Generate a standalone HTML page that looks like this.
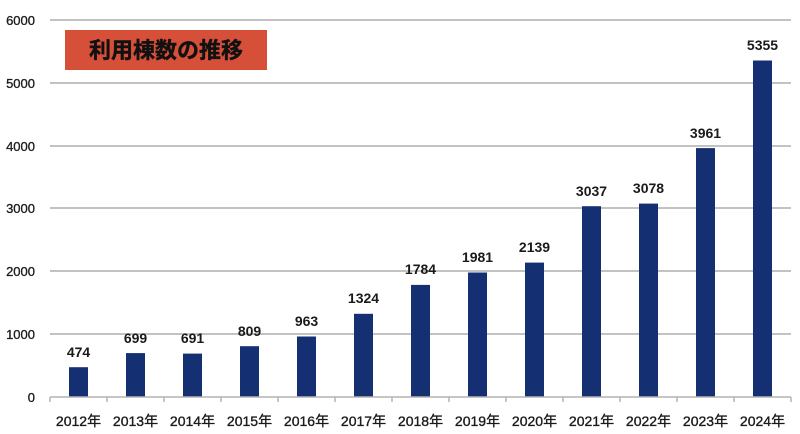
<!DOCTYPE html>
<html><head><meta charset="utf-8"><style>
html,body{margin:0;padding:0;background:#fff;}
svg{display:block;}
</style></head><body>
<svg width="800" height="434" viewBox="0 0 800 434" xmlns="http://www.w3.org/2000/svg">
<g stroke="#c2c2c2" stroke-width="2">
<line x1="50" y1="20" x2="791" y2="20"/>
<line x1="50" y1="83" x2="791" y2="83"/>
<line x1="50" y1="146" x2="791" y2="146"/>
<line x1="50" y1="208" x2="791" y2="208"/>
<line x1="50" y1="271" x2="791" y2="271"/>
<line x1="50" y1="334" x2="791" y2="334"/>
</g>
<g font-family="Liberation Sans, sans-serif" font-size="13" fill="#1a1a1a" stroke="#1a1a1a" stroke-width="0.3" text-anchor="end">
<text x="35" y="25">6000</text>
<text x="35" y="88">5000</text>
<text x="35" y="151">4000</text>
<text x="35" y="213">3000</text>
<text x="35" y="276">2000</text>
<text x="35" y="339">1000</text>
<text x="35" y="402">0</text>
</g>
<rect x="65" y="30" width="202" height="40" fill="#d64f38"/>
<text x="166" y="58" text-anchor="middle" font-family="Liberation Sans, 'Noto Sans CJK JP', sans-serif" font-size="22" font-weight="bold" fill="#111" stroke="#111" stroke-width="0.4">利用棟数の推移</text>
<g fill="#142f72">
<rect x="69" y="367.2" width="19" height="29.8"/>
<rect x="126" y="353.1" width="19" height="43.9"/>
<rect x="183" y="353.6" width="19" height="43.4"/>
<rect x="240" y="346.2" width="19" height="50.8"/>
<rect x="297" y="336.5" width="19" height="60.5"/>
<rect x="354" y="313.8" width="19" height="83.2"/>
<rect x="411" y="284.9" width="19" height="112.1"/>
<rect x="468" y="272.5" width="19" height="124.5"/>
<rect x="525" y="262.6" width="19" height="134.4"/>
<rect x="582" y="206.2" width="19" height="190.8"/>
<rect x="639" y="203.6" width="19" height="193.4"/>
<rect x="696" y="148.1" width="19" height="248.9"/>
<rect x="753" y="60.5" width="19" height="336.5"/>
</g>
<g stroke="#b4b4b4" stroke-width="1.5">
<line x1="50" y1="397" x2="791" y2="397"/>
<line x1="50" y1="397" x2="50" y2="402"/>
<line x1="107" y1="397" x2="107" y2="402"/>
<line x1="164" y1="397" x2="164" y2="402"/>
<line x1="221" y1="397" x2="221" y2="402"/>
<line x1="278" y1="397" x2="278" y2="402"/>
<line x1="335" y1="397" x2="335" y2="402"/>
<line x1="392" y1="397" x2="392" y2="402"/>
<line x1="449" y1="397" x2="449" y2="402"/>
<line x1="506" y1="397" x2="506" y2="402"/>
<line x1="563" y1="397" x2="563" y2="402"/>
<line x1="620" y1="397" x2="620" y2="402"/>
<line x1="677" y1="397" x2="677" y2="402"/>
<line x1="734" y1="397" x2="734" y2="402"/>
<line x1="791" y1="397" x2="791" y2="402"/>
</g>
<g font-family="Liberation Sans, sans-serif" font-size="14" font-weight="bold" fill="#1a1a1a" text-anchor="middle">
<text x="78.5" y="357">474</text>
<text x="135.5" y="343">699</text>
<text x="192.5" y="343">691</text>
<text x="249.5" y="336">809</text>
<text x="306.5" y="326">963</text>
<text x="363.5" y="303">1324</text>
<text x="420.5" y="274">1784</text>
<text x="477.5" y="262">1981</text>
<text x="534.5" y="252">2139</text>
<text x="591.5" y="196">3037</text>
<text x="648.5" y="193">3078</text>
<text x="705.5" y="138">3961</text>
<text x="762.5" y="50">5355</text>
</g>
<g font-family="Liberation Sans, 'Noto Sans CJK JP', sans-serif" font-size="14" fill="#1a1a1a" stroke="#1a1a1a" stroke-width="0.35" text-anchor="middle">
<text x="78.5" y="426">2012年</text>
<text x="135.5" y="426">2013年</text>
<text x="192.5" y="426">2014年</text>
<text x="249.5" y="426">2015年</text>
<text x="306.5" y="426">2016年</text>
<text x="363.5" y="426">2017年</text>
<text x="420.5" y="426">2018年</text>
<text x="477.5" y="426">2019年</text>
<text x="534.5" y="426">2020年</text>
<text x="591.5" y="426">2021年</text>
<text x="648.5" y="426">2022年</text>
<text x="705.5" y="426">2023年</text>
<text x="762.5" y="426">2024年</text>
</g>
</svg>
</body></html>
